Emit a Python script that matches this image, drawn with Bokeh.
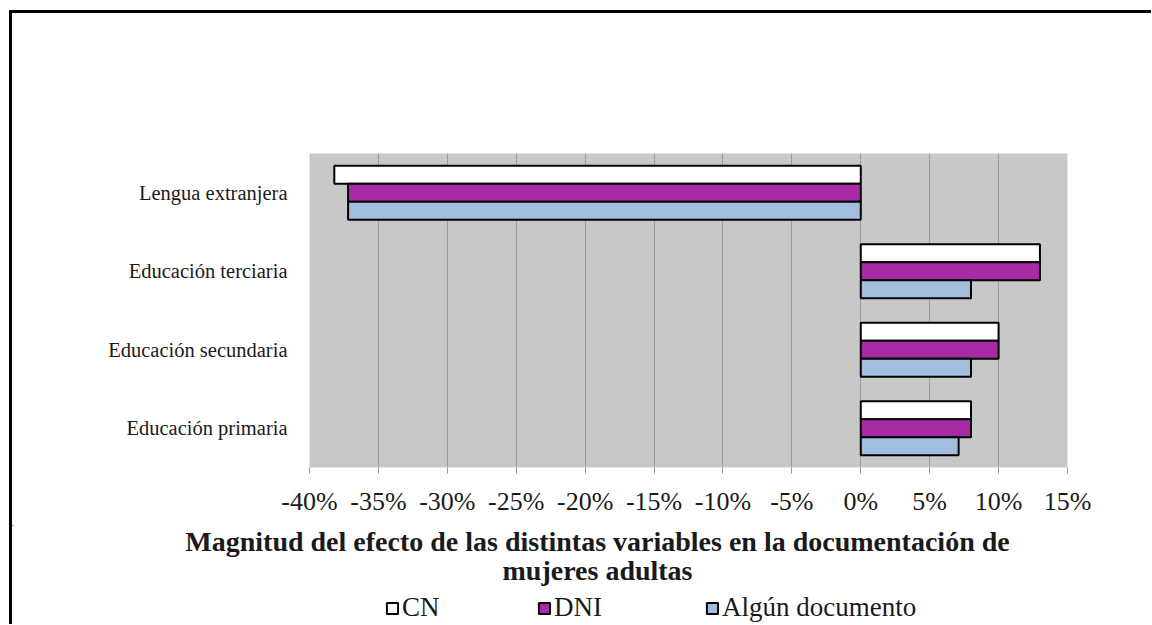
from bokeh.plotting import figure
from bokeh.layouts import column
from bokeh.models import (FactorRange, Range1d, FixedTicker, Legend, LegendItem,
                          Label, ColumnDataSource)
from bokeh.transform import dodge
from bokeh.embed import file_html
from bokeh.resources import INLINE

# ---- data -------------------------------------------------------------
categories = ["Educación primaria", "Educación secundaria",
              "Educación terciaria", "Lengua extranjera"]
cn = [8.0, 10.0, 13.0, -38.2]
dni = [8.0, 10.0, 13.0, -37.2]
algun = [7.1, 8.0, 8.0, -37.2]
series_names = ["CN", "DNI", "Algún documento"]
x_ticks = [-40, -35, -30, -25, -20, -15, -10, -5, 0, 5, 10, 15]
x_tick_labels = ["-40%", "-35%", "-30%", "-25%", "-20%", "-15%", "-10%",
                 "-5%", "0%", "5%", "10%", "15%"]
title_lines = ["Magnitud del efecto de las distintas variables en la documentación de",
               "mujeres adultas"]

# ---- style --------------------------------------------------------------
FONT = "Liberation Serif"
TXT = "#1a1a1a"
colors = ["#FFFFFF", "#A82AA4", "#A1BEDF"]
BAR_H = 0.23
W = 1139
H_TOP, H_BOT = 512, 99

src = ColumnDataSource(dict(cat=categories, cn=cn, dni=dni, algun=algun))

p = figure(width=W, height=H_TOP,
           y_range=FactorRange(factors=categories),
           x_range=Range1d(x_ticks[0], x_ticks[-1]),
           output_backend="svg", toolbar_location=None,
           min_border_left=297, min_border_right=W - 1055,
           min_border_top=140, min_border_bottom=H_TOP - 454)
p.frame_align = False

p.background_fill_color = "#C8C8C8"
p.border_fill_color = "white"
p.outline_line_color = None

for col, off, color in zip(["cn", "dni", "algun"], [BAR_H, 0, -BAR_H], colors):
    p.hbar(y=dodge("cat", off, range=p.y_range), left=0, right=col,
           height=BAR_H, source=src, fill_color=color,
           line_color="black", line_width=2)

# x axis
p.xaxis.ticker = FixedTicker(ticks=x_ticks)
p.xaxis.major_label_overrides = {t: l for t, l in zip(x_ticks, x_tick_labels)}
p.xaxis.axis_line_color = None
p.xaxis.major_tick_line_color = "#999999"
p.xaxis.major_tick_out = 6
p.xaxis.major_tick_in = 0
p.xaxis.minor_tick_line_color = None
p.xaxis.major_label_text_font = FONT
p.xaxis.major_label_text_font_size = "26px"
p.xaxis.major_label_text_color = TXT
p.xaxis.major_label_standoff = 13

# y axis
p.yaxis.axis_line_color = None
p.yaxis.major_tick_line_color = None
p.yaxis.major_tick_out = 0
p.yaxis.major_tick_in = 0
p.yaxis.minor_tick_line_color = None
p.yaxis.major_label_text_font = FONT
p.yaxis.major_label_text_font_size = "20.5px"
p.yaxis.major_label_text_color = TXT
p.yaxis.major_label_standoff = 22

p.xgrid.grid_line_color = "#9c9c9c"
p.xgrid.grid_line_width = 1
p.ygrid.grid_line_color = None

# ---- bottom strip: title + legend ----------------------------------------
p2 = figure(width=W, height=H_BOT, x_range=Range1d(0, W), y_range=Range1d(H_BOT, 0),
            output_backend="svg", toolbar_location=None,
            x_axis_type=None, y_axis_type=None,
            min_border=0, min_border_left=0, min_border_right=0,
            min_border_top=0, min_border_bottom=0)
p2.frame_align = False
p2.outline_line_color = None
p2.xgrid.grid_line_color = None
p2.ygrid.grid_line_color = None
p2.background_fill_color = "white"
p2.border_fill_color = "white"

for txt, yy in zip(title_lines, [15.5, 45.0]):
    p2.add_layout(Label(x=585, y=yy, text=txt, text_align="center",
                        text_baseline="middle", text_font=FONT,
                        text_font_style="bold", text_font_size="28px",
                        text_color=TXT))

# legend swatches: renderers kept outside the visible strip (legend use only)
swatch = ColumnDataSource(dict(y=[-10 * H_BOT], right=[0]))
for name, color, lx in zip(series_names, colors, [373, 525, 693]):
    r = p2.hbar(y="y", right="right", left=0, height=1, source=swatch,
                fill_color=color, line_color="black", line_width=2)
    leg = Legend(items=[LegendItem(label=name, renderers=[r])],
                 location=(lx, 1), orientation="horizontal",
                 glyph_width=14, glyph_height=14, label_standoff=3,
                 padding=0, margin=0, spacing=0,
                 border_line_color=None, background_fill_alpha=0,
                 label_text_font=FONT, label_text_font_size="27px",
                 label_text_color=TXT)
    p2.add_layout(leg, "center")

root = column(p, p2, spacing=0)
root.styles = {"border-left": "3px solid black", "border-top": "3px solid black",
               "margin-left": "9px", "margin-top": "10px"}

open("out.html", "w").write(file_html(root, INLINE))
